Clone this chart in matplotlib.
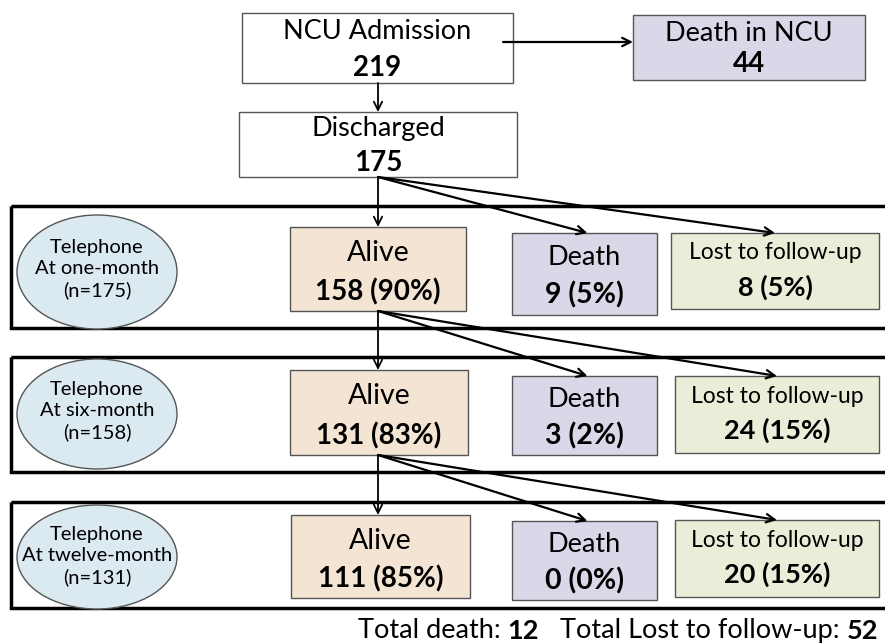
import matplotlib.pyplot as plt
from matplotlib.patches import Rectangle, Ellipse

plt.rcParams['font.family'] = ['Lato', 'DejaVu Sans']

# data
admitted = 219
died_ncu = 44
discharged = 175
stages = ['At one-month', 'At six-month', 'At twelve-month']
stage_n = [175, 158, 131]
alive = [158, 131, 111]
alive_pct = [90, 83, 85]
death = [9, 3, 0]
death_pct = [5, 2, 0]
lost = [8, 24, 20]
lost_pct = [5, 15, 15]
total_death = 12
total_lost = 52

c_peach = '#f3e4d3'
c_lav = '#dcd7e8'
c_green = '#e9eed9'
c_blue = '#dbe9f0'
c_edge = '#555555'

fig = plt.figure(figsize=(8.85, 6.44), dpi=100)
ax = fig.add_axes([0, 0, 1, 1])
ax.set_xlim(0, 885)
ax.set_ylim(644, 0)
ax.axis('off')


def box(x0, y0, x1, y1, fc, top, bottom, fs1, fs2, f1=0.3, f2=0.74):
    ax.add_patch(Rectangle((x0, y0), x1 - x0, y1 - y0, fc=fc, ec=c_edge, lw=1))
    cx = (x0 + x1) / 2
    h = y1 - y0
    ax.text(cx, y0 + h * f1, top, ha='center', va='center', fontsize=fs1)
    ax.text(cx, y0 + h * f2, bottom, ha='center', va='center', fontsize=fs2,
            fontweight='bold')


def arrow(x0, y0, x1, y1, lw=1.3):
    ax.annotate('', xy=(x1, y1), xytext=(x0, y0),
                arrowprops=dict(arrowstyle='->', lw=lw, color='black',
                                shrinkA=0, shrinkB=0, mutation_scale=15))


# top part
box(242, 13, 513, 83, 'white', 'NCU Admission', str(admitted), 19.5, 20, 0.27, 0.78)
box(633, 15, 865, 80, c_lav, 'Death in NCU', str(died_ncu), 19.5, 20, 0.28, 0.75)
arrow(503, 42, 633, 42, lw=1.6)
arrow(378, 83, 378, 112)
box(239, 112, 517, 177, 'white', 'Discharged', str(discharged), 19.5, 20, 0.25, 0.78)

panel_y = [(206, 328), (357, 472), (502, 608)]
ell_y = [272, 414, 557]
ell_h = [114, 110, 104]
txt_y = [269, 411, 556]
alive_box = [(290, 227, 466, 311), (290, 370, 468, 455), (291, 515, 470, 598)]
death_box = [(512, 233, 657, 315), (512, 376, 657, 455), (512, 521, 657, 600)]
lost_box = [(671, 233, 879, 309), (675, 376, 879, 453), (675, 520, 879, 597)]
src_y = [177, 311, 455]

for i in range(3):
    py0, py1 = panel_y[i]
    ax.add_patch(Rectangle((11, py0), 900, py1 - py0, fc='none', ec='black', lw=2.5))
    ax.add_patch(Ellipse((97, ell_y[i]), 160, ell_h[i], fc=c_blue, ec=c_edge, lw=1))
    ax.text(97, txt_y[i], 'Telephone\n%s\n(n=%d)' % (stages[i], stage_n[i]),
            ha='center', va='center', fontsize=14.5, linespacing=1.3)
    a = alive_box[i]
    box(*a, c_peach, 'Alive', '%d (%d%%)' % (alive[i], alive_pct[i]), 20.5, 20, 0.31, 0.77)
    d = death_box[i]
    box(*d, c_lav, 'Death', '%d (%d%%)' % (death[i], death_pct[i]), 19.5, 20.5, 0.30, 0.76)
    l = lost_box[i]
    box(*l, c_green, 'Lost to follow-up', '%d (%d%%)' % (lost[i], lost_pct[i]),
        16.5, 19.5, 0.26, 0.71)
    sy = src_y[i]
    arrow(378, sy, 378, a[1])
    arrow(378, sy, (d[0] + d[2]) / 2 + 3, d[1], lw=1.6)
    arrow(378, sy, (l[0] + l[2]) / 2, l[1], lw=1.6)

# footer, mixed weights, right aligned, chained from the right
parts = [('Total death: ', 'normal'), (str(total_death), 'bold'),
         ('   Total Lost to follow-up: ', 'normal'), (str(total_lost), 'bold')]
s, w = parts[-1]
t = ax.text(878, 631, s, fontsize=19.5, fontweight=w, va='center', ha='right')
for s, w in reversed(parts[:-1]):
    t = ax.annotate(s, xy=(0, 0), xycoords=t, va='bottom', ha='right',
                    fontsize=19.5, fontweight=w)

fig.savefig('out.png', dpi=100)
